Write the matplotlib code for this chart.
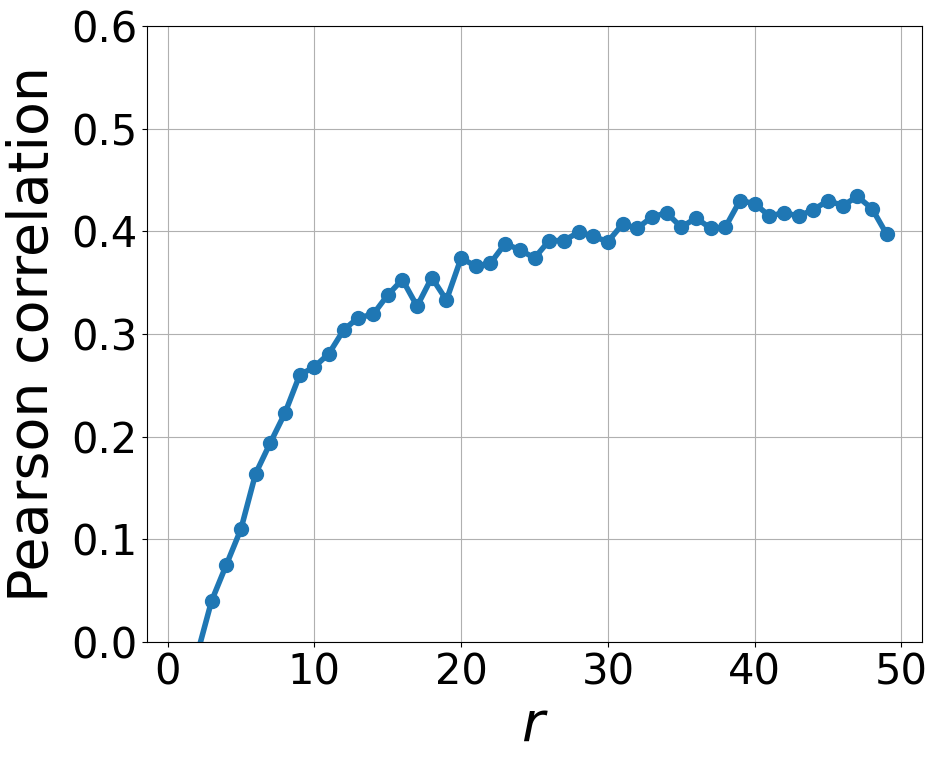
import matplotlib
matplotlib.use('Agg')
import matplotlib.pyplot as plt

r_values = list(range(1, 50))
pearson = [-0.05, -0.013, 0.040, 0.075, 0.110, 0.164, 0.194, 0.223, 0.260, 0.268,
           0.281, 0.304, 0.316, 0.319, 0.338, 0.353, 0.327, 0.355, 0.333, 0.374,
           0.366, 0.369, 0.388, 0.382, 0.374, 0.391, 0.391, 0.399, 0.395, 0.390,
           0.407, 0.403, 0.414, 0.418, 0.404, 0.413, 0.403, 0.404, 0.430, 0.427,
           0.415, 0.418, 0.415, 0.421, 0.430, 0.425, 0.434, 0.422, 0.397]

fig = plt.figure(figsize=(9.36, 7.63), dpi=100)
ax = fig.add_axes([147/936, 1 - 642/763, (922-147)/936, (642-26)/763])
ax.plot(r_values, pearson, '-o', color='#1f77b4', linewidth=4, markersize=10)
ax.set_ylim(0, 0.6)
ax.set_xticks([0, 10, 20, 30, 40, 50])
ax.set_yticks([0.0, 0.1, 0.2, 0.3, 0.4, 0.5, 0.6])
ax.tick_params(labelsize=30)
ax.grid(True)
ax.set_xlabel('$r$', fontsize=40)
ax.set_ylabel('Pearson correlation', fontsize=40, labelpad=8)

plt.savefig('out.png', dpi=100)
